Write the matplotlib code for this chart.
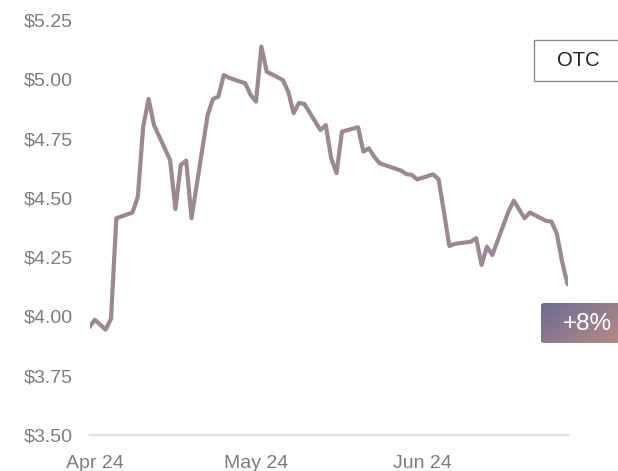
import matplotlib
matplotlib.use("Agg")
import matplotlib.pyplot as plt
import numpy as np
import pandas as pd
from matplotlib.patches import FancyBboxPatch, Rectangle
from matplotlib.colors import LinearSegmentedColormap

dates = ["2024-03-31", "2024-04-01", "2024-04-02", "2024-04-03", "2024-04-04", "2024-04-05",
         "2024-04-08", "2024-04-09", "2024-04-10", "2024-04-11", "2024-04-12",
         "2024-04-15", "2024-04-16", "2024-04-17", "2024-04-18", "2024-04-19",
         "2024-04-22", "2024-04-23", "2024-04-24", "2024-04-25", "2024-04-26",
         "2024-04-29", "2024-04-30", "2024-05-01", "2024-05-02", "2024-05-03",
         "2024-05-06", "2024-05-07", "2024-05-08", "2024-05-09", "2024-05-10",
         "2024-05-13", "2024-05-14", "2024-05-15", "2024-05-16", "2024-05-17",
         "2024-05-20", "2024-05-21", "2024-05-22", "2024-05-23", "2024-05-24",
         "2024-05-28", "2024-05-29", "2024-05-30", "2024-05-31",
         "2024-06-03", "2024-06-04", "2024-06-05", "2024-06-06", "2024-06-07",
         "2024-06-10", "2024-06-11", "2024-06-12", "2024-06-13", "2024-06-14",
         "2024-06-17", "2024-06-18", "2024-06-20", "2024-06-21",
         "2024-06-24", "2024-06-25", "2024-06-26", "2024-06-27", "2024-06-28"]
prices = [3.955, 3.986, 3.965, 3.944, 3.990, 4.414,
          4.438, 4.505, 4.800, 4.917, 4.807,
          4.660, 4.453, 4.639, 4.657, 4.414,
          4.850, 4.917, 4.927, 5.018, 5.006,
          4.983, 4.934, 4.906, 5.138, 5.032,
          4.997, 4.948, 4.857, 4.900, 4.896,
          4.786, 4.807, 4.667, 4.604, 4.779,
          4.798, 4.695, 4.709, 4.674, 4.646,
          4.615, 4.600, 4.597, 4.578,
          4.599, 4.578, 4.440, 4.297, 4.306,
          4.315, 4.330, 4.217, 4.294, 4.259,
          4.442, 4.488, 4.414, 4.438,
          4.403, 4.400, 4.350, 4.231, 4.136]

y_ticks = [3.50, 3.75, 4.00, 4.25, 4.50, 4.75, 5.00, 5.25]
x_tick_dates = ["2024-04-01", "2024-05-01", "2024-06-01"]
x_tick_labels = ["Apr 24", "May 24", "Jun 24"]
legend_label = "OTC"
change_label = "+8%"

plt.rcParams['font.family'] = ['Liberation Sans', 'DejaVu Sans']

W, H = 618, 471
fig = plt.figure(figsize=(W / 100, H / 100), dpi=100)
fig.patch.set_facecolor("white")

left_px, right_px = 89.5, 567.5
top_px, bot_px = 20, 435
ax = fig.add_axes([left_px / W, (H - bot_px) / H, (right_px - left_px) / W, (bot_px - top_px) / H])

x = pd.to_datetime(dates)
ax.plot(x, prices, color="#9c8892", lw=3.0, solid_capstyle="round", solid_joinstyle="round", zorder=3)

ax.set_xlim(pd.Timestamp(dates[0]), pd.Timestamp(dates[-1]))
ax.set_ylim(y_ticks[0], y_ticks[-1])
ax.set_yticks(y_ticks)
ax.set_yticklabels([f"${v:.2f}" for v in y_ticks])
ax.set_xticks(pd.to_datetime(x_tick_dates))
ax.set_xticklabels(x_tick_labels)

for s in ["top", "right", "left"]:
    ax.spines[s].set_visible(False)
ax.spines["bottom"].set_color("#e0e0e0")
ax.spines["bottom"].set_linewidth(1.6)
ax.tick_params(axis="both", length=0, labelsize=14, colors="#7d7d7d")
ax.tick_params(axis="y", pad=12)
ax.tick_params(axis="x", pad=14.5)
ax.set_facecolor("none")

# overlay axes in pixel coordinates
ov = fig.add_axes([0, 0, 1, 1])
ov.set_xlim(0, W)
ov.set_ylim(H, 0)
ov.axis("off")
ov.patch.set_alpha(0)

# OTC legend box
ov.add_patch(Rectangle((533.5, 39.5), 100, 41, facecolor="white", edgecolor="#8a8a8a", lw=1.0, zorder=2))
ov.text(578, 60.5, legend_label, ha="center", va="center", fontsize=14.5, color="#222222",
        family=['Liberation Sans Narrow', 'Liberation Sans', 'DejaVu Sans'], zorder=3)

# gradient badge
bx, by, bw, bh = 540.5, 303, 100, 40
badge = FancyBboxPatch((bx, by), bw, bh, boxstyle="round,pad=0,rounding_size=4",
                       facecolor="none", edgecolor="none", zorder=2)
ov.add_patch(badge)
cmap = LinearSegmentedColormap.from_list("g", ["#6c6b93", "#c29282"])
gx = np.linspace(0, 1, 200)
gy = np.linspace(0, 1, 80)
GX, GY = np.meshgrid(gx, gy)
grad = 0.7 * GX * (78 / 100) + 0.3 * GY
im = ov.imshow(grad, cmap=cmap, extent=[bx, bx + bw, by + bh, by], aspect="auto",
               vmin=0, vmax=0.85, zorder=2, interpolation="bilinear")
im.set_clip_path(badge)
ov.text(587, 324, change_label, ha="center", va="center", fontsize=17.5, color="white", zorder=4)

fig.savefig("out.png", dpi=100)
